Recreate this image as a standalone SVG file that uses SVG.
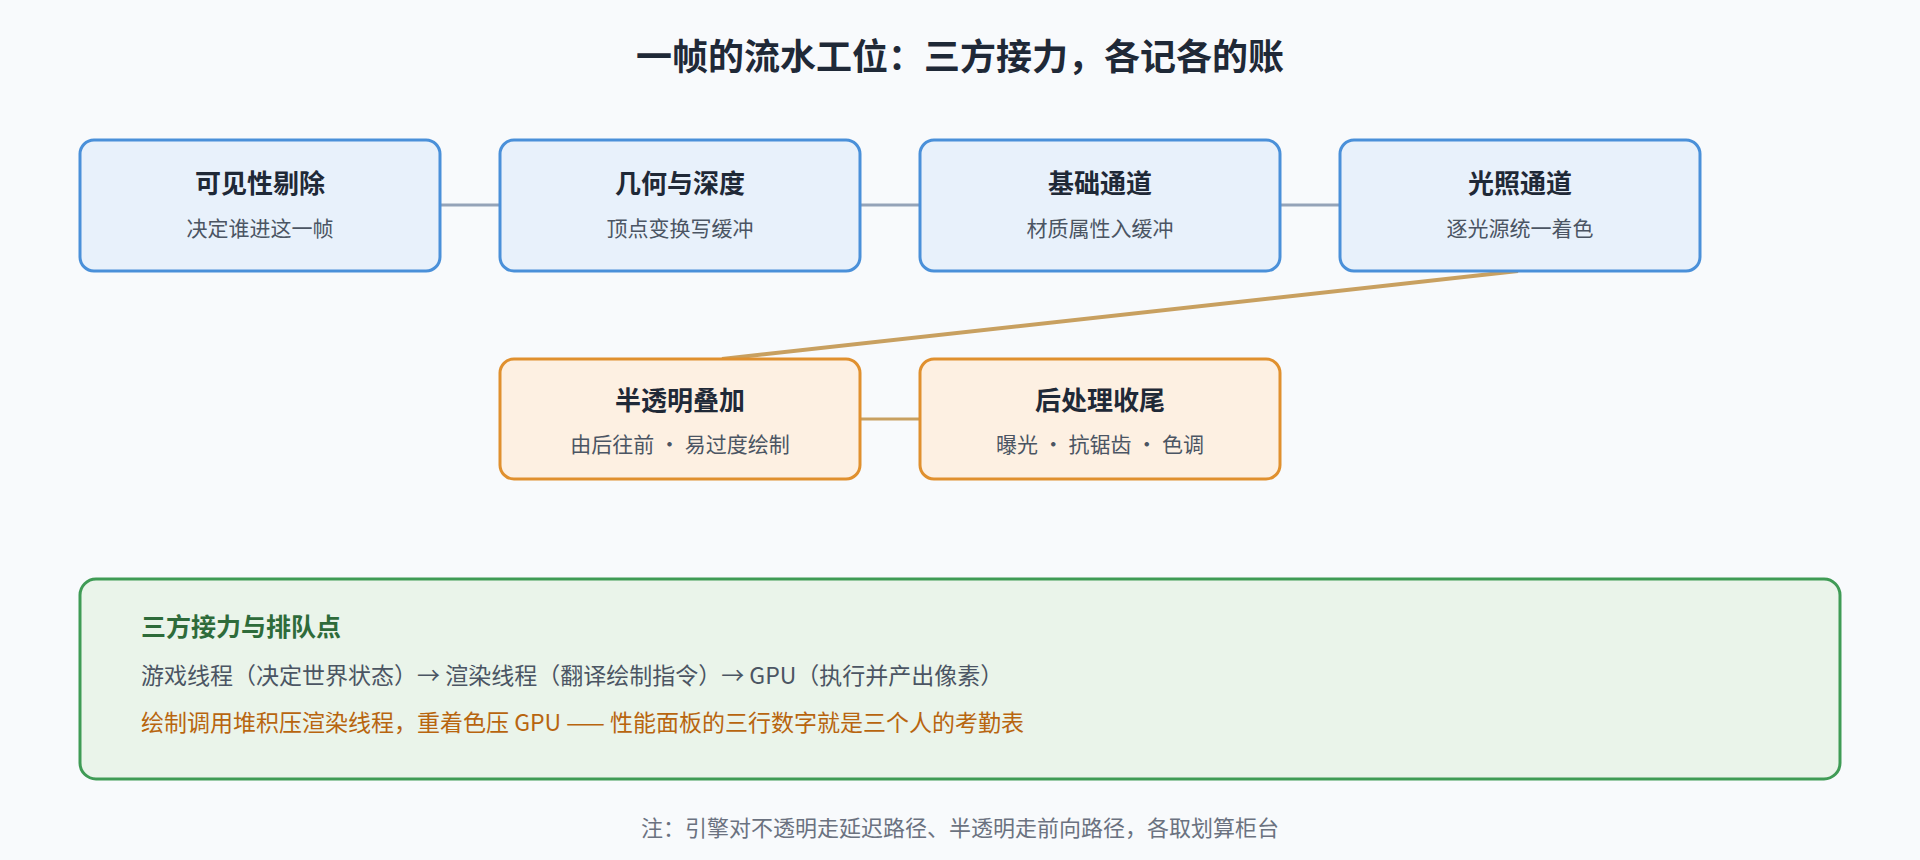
<svg xmlns="http://www.w3.org/2000/svg" width="1920" height="860" viewBox="0 0 1920 860">
<style>
text{font-family:"Noto Sans CJK SC","Noto Sans",sans-serif}
.t{font-size:26px;font-weight:bold;fill:#1f2937;text-anchor:middle}
.s{font-size:21px;fill:#4b5563;text-anchor:middle}
.b rect{fill:#e8f1fb;stroke:#4a90d9;stroke-width:3}
.o rect{fill:#fdf0e2;stroke:#e0902e;stroke-width:3}
</style>
<rect width="1920" height="860" fill="#f8fafc"/>
<text x="960" y="70" text-anchor="middle" font-size="36" font-weight="bold" fill="#1f2937">一帧的流水工位：三方接力，各记各的账</text>
<g id="connectors" fill="none" stroke-width="3">
<line x1="440" y1="205" x2="500" y2="205" stroke="#94a3b8"/>
<line x1="860" y1="205" x2="920" y2="205" stroke="#94a3b8"/>
<line x1="1280" y1="205" x2="1340" y2="205" stroke="#94a3b8"/>
<line x1="1518" y1="271" x2="722" y2="359" stroke="#c8a060" stroke-width="4"/>
<line x1="860" y1="419" x2="920" y2="419" stroke="#c8a060"/>
</g>
<g id="n1" class="b"><rect x="80" y="140" width="360" height="131" rx="14"/><text class="t" x="260" y="193">可见性剔除</text><text class="s" x="260" y="236">决定谁进这一帧</text></g>
<g id="n2" class="b"><rect x="500" y="140" width="360" height="131" rx="14"/><text class="t" x="680" y="193">几何与深度</text><text class="s" x="680" y="236">顶点变换写缓冲</text></g>
<g id="n3" class="b"><rect x="920" y="140" width="360" height="131" rx="14"/><text class="t" x="1100" y="193">基础通道</text><text class="s" x="1100" y="236">材质属性入缓冲</text></g>
<g id="n4" class="b"><rect x="1340" y="140" width="360" height="131" rx="14"/><text class="t" x="1520" y="193">光照通道</text><text class="s" x="1520" y="236">逐光源统一着色</text></g>
<g id="n5" class="o"><rect x="500" y="359" width="360" height="120" rx="14"/><text class="t" x="680" y="410">半透明叠加</text><text class="s" x="680" y="452">由后往前 · 易过度绘制</text></g>
<g id="n6" class="o"><rect x="920" y="359" width="360" height="120" rx="14"/><text class="t" x="1100" y="410">后处理收尾</text><text class="s" x="1100" y="452">曝光 · 抗锯齿 · 色调</text></g>
<g id="panel">
<rect x="80" y="579" width="1760" height="200" rx="16" fill="#eaf4ea" stroke="#3f9b55" stroke-width="3"/>
<text x="141" y="636" font-size="25" font-weight="bold" fill="#2e6b3a">三方接力与排队点</text>
<text x="141" y="684" font-size="23" fill="#4b5563">游戏线程（决定世界状态）→ 渲染线程（翻译绘制指令）→ GPU（执行并产出像素）</text>
<text x="141" y="731" font-size="23" fill="#b8650f">绘制调用堆积压渲染线程，重着色压 GPU —— 性能面板的三行数字就是三个人的考勤表</text>
</g>
<text x="960" y="836" text-anchor="middle" font-size="22" fill="#6b7280">注：引擎对不透明走延迟路径、半透明走前向路径，各取划算柜台</text>
</svg>
